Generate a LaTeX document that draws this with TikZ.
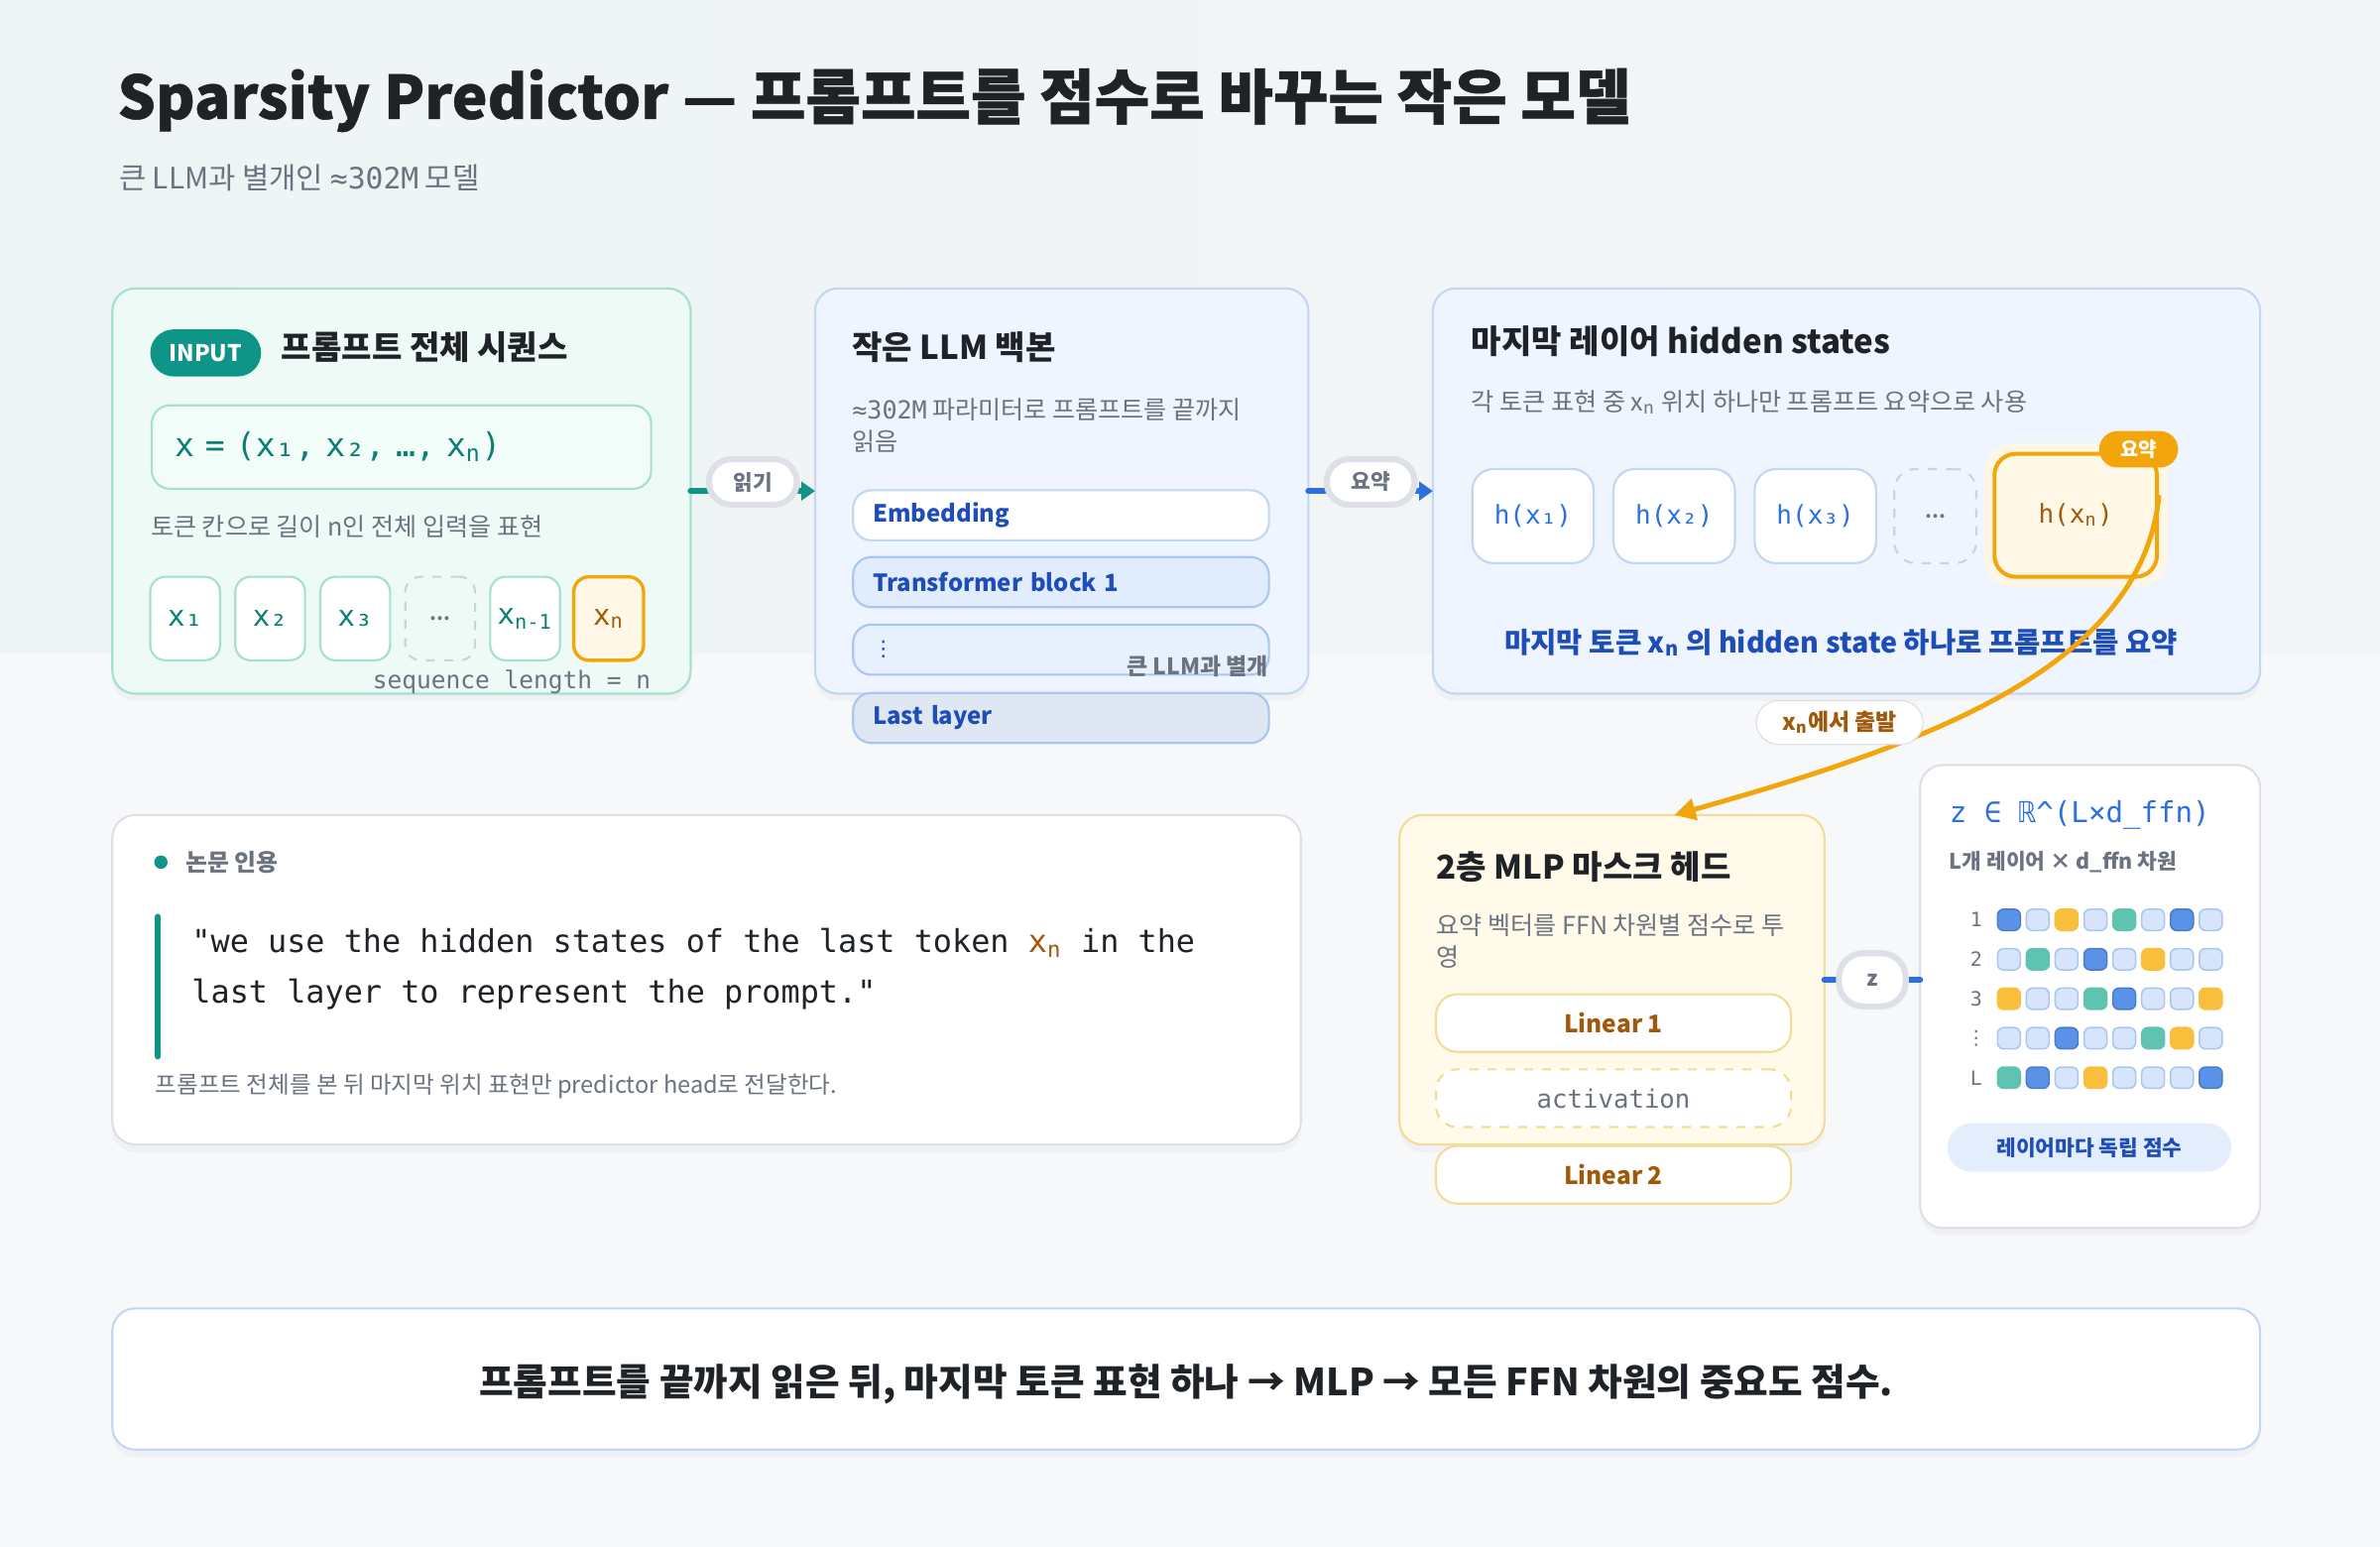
\documentclass[tikz,border=0pt]{standalone}
\usepackage{fontspec}
\setmainfont{Noto Sans CJK KR}
\setmonofont{DejaVu Sans Mono}
\newfontfamily\symfont{DejaVu Sans}
\newfontfamily\heavyfont{Noto Sans CJK KR}[BoldFeatures={FakeBold=0.8}]
\usetikzlibrary{arrows.meta,shadows}

\newcommand\fsz[2]{\fontsize{#1}{#2}\selectfont}

\definecolor{ink}{HTML}{1F2328}
\definecolor{muted}{HTML}{6B7280}
\definecolor{tealmain}{HTML}{0F9488}
\definecolor{tealdark}{HTML}{0C7F74}
\definecolor{tealline}{HTML}{A6DFD2}
\definecolor{mintfill}{HTML}{EEFAF6}
\definecolor{mintlight}{HTML}{F2FCF9}
\definecolor{bluemain}{HTML}{2B6FE0}
\definecolor{bluetext}{HTML}{1E4DB7}
\definecolor{blueline}{HTML}{C3D6F2}
\definecolor{blueline2}{HTML}{A9C6F0}
\definecolor{bluefill}{HTML}{EEF5FE}
\definecolor{layerfill}{HTML}{E1EDFD}
\definecolor{layerfill2}{HTML}{E7F0FD}
\definecolor{lastfill}{HTML}{DFE7F3}
\definecolor{bluecell}{HTML}{D6E5FB}
\definecolor{pillblue}{HTML}{E3EDFC}
\definecolor{orangemain}{HTML}{F2A60C}
\definecolor{browntext}{HTML}{A0580A}
\definecolor{xnfill}{HTML}{FFF8E6}
\definecolor{yellowfill}{HTML}{FFFAE9}
\definecolor{yellowline}{HTML}{F4DC98}
\definecolor{cardline}{HTML}{DDE1E7}
\definecolor{pagebg}{HTML}{F7F8FA}
\definecolor{topleft}{HTML}{EEF4F4}
\definecolor{topright}{HTML}{F3F5F8}
\definecolor{cellstrong}{HTML}{5A92EA}
\definecolor{cellteal}{HTML}{5EC4B1}
\definecolor{cellyellow}{HTML}{F8BE3C}

\tikzset{
  card/.style={rounded corners=7.5pt, line width=0.7pt, inner sep=0pt, outer sep=0pt,
    drop shadow={shadow xshift=0pt, shadow yshift=-2.5pt, opacity=0.05}},
  head/.style={anchor=west, inner sep=0pt, text=ink, font=\bfseries\fsz{10.8}{13}},
  note/.style={anchor=west, inner sep=0pt, text=muted, align=left, font=\fsz{8.2}{10.5}},
  tokcell/.style={draw=tealline, fill=white, rounded corners=5pt, line width=0.7pt,
    minimum width=23pt, minimum height=27.5pt, inner sep=0pt, text=tealdark,
    font=\ttfamily\fsz{9.5}{10}},
  gapcell/.style={tokcell, draw=gray!35, fill=none, dashed, text=muted,
    font=\bfseries\fsz{6}{7}},
  lastcell/.style={tokcell, draw=orangemain, fill=xnfill, text=browntext, line width=1.1pt},
  layer/.style={draw=blueline2, rounded corners=6pt, line width=0.7pt, minimum height=16.5pt,
    text width=124pt, inner xsep=6.5pt, inner ysep=0pt, align=left, text=bluetext,
    font=\bfseries\fsz{7.8}{10}},
  hcell/.style={draw=blueline, fill=white, rounded corners=7pt, line width=0.7pt,
    minimum width=40pt, minimum height=31pt, inner sep=0pt, text=bluemain,
    font=\ttfamily\fsz{8.5}{10}},
  flowlabel/.style={draw=cardline, fill=white, rounded corners=7.5pt, minimum width=29pt,
    minimum height=15pt, inner sep=0pt, text=muted, font=\bfseries\fsz{7}{8}},
  flowteal/.style={draw=tealmain, line width=2pt, line cap=round,
    -{Triangle[length=4.5pt,width=6pt]}},
  flowblue/.style={draw=bluemain, line width=2pt, line cap=round,
    -{Triangle[length=4.5pt,width=6pt]}},
  flowxn/.style={draw=orangemain, line width=1.6pt, line cap=round,
    -{Triangle[length=7pt,width=7pt]}},
  mlpstep/.style={draw=yellowline, fill=white, rounded corners=7pt, line width=0.7pt,
    minimum width=117pt, minimum height=19pt, inner sep=0pt, text=browntext,
    font=\bfseries\fsz{8}{10}},
  gridcell/.style={rounded corners=2pt, minimum width=7.5pt, minimum height=7pt,
    inner sep=0pt, line width=0.5pt},
  cellb/.style={gridcell, fill=cellstrong, draw=cellstrong!85!black},
  celll/.style={gridcell, fill=bluecell, draw=blueline2},
  celly/.style={gridcell, fill=cellyellow, draw=cellyellow},
  cellt/.style={gridcell, fill=cellteal, draw=cellteal},
  rowlab/.style={inner sep=0pt, text=muted, font=\ttfamily\fsz{6.5}{7}},
}

\begin{document}
\begin{tikzpicture}[x=0.5pt, y=-0.5pt]
  \useasboundingbox (0,0) rectangle (1568,1019);
  % background
  \fill[pagebg] (0,0) rectangle (1568,1019);
  \shade[left color=topleft, right color=topright] (0,0) rectangle (1568,430);

  \node[anchor=west, inner sep=0pt, text=ink, font=\heavyfont\bfseries\fsz{19.7}{22}] (title) at (77,66)
    {Sparsity Predictor — 프롬프트를 점수로 바꾸는 작은 모델};
  \node[anchor=west, inner sep=0pt, text=muted, font=\fsz{9.7}{11}] (subtitle) at (78,117)
    {큰 LLM과 별개인 {\ttfamily ≈302M} 모델};

  % input sequence
  \node[card, draw=tealline, fill=mintfill, minimum width=190.5pt, minimum height=133.5pt] (inbox) at (264.5,323.5) {};
  \node[fill=tealmain, rounded corners=7.75pt, minimum width=36.5pt, minimum height=15.5pt,
    inner sep=0pt, text=white, font=\bfseries\fsz{7.5}{9}] (inputtag) at (135.5,232.5) {INPUT};
  \node[head] (intitle) at (185,229) {프롬프트 전체 시퀀스};
  \node[draw=tealline, fill=mintlight, rounded corners=6pt, line width=0.7pt, minimum height=27.5pt,
    text width=149.5pt, inner xsep=7.5pt, align=left, text=tealdark,
    font=\ttfamily\fsz{10.8}{12}] (formula) at (264.5,294.5) {x = (x₁, x₂, …, x\textsubscript{n})};
  \node[note] (innote) at (99,347) {토큰 칸으로 길이 n인 전체 입력을 표현};
  \node[tokcell] (x1) at (122,407.5) {x₁};
  \node[tokcell] (x2) at (178,407.5) {x₂};
  \node[tokcell] (x3) at (234,407.5) {x₃};
  \node[gapcell] (xdots) at (290,407.5) {…};
  \node[tokcell] (xprev) at (346,407.5) {x\textsubscript{n-1}};
  \node[lastcell] (xlast) at (401,407.5) {x\textsubscript{n}};
  \node[anchor=east, inner sep=0pt, text=muted, font=\ttfamily\fsz{8}{9}] (seqlen) at (429,449) {sequence length = n};

  % small LLM backbone
  \node[card, draw=blueline, fill=bluefill, minimum width=162.5pt, minimum height=133.5pt] (llmbox) at (699.5,323.5) {};
  \node[head] (llmtitle) at (561,229) {작은 LLM 백본};
  \node[note] (llmnote) at (561,280.5) {{\ttfamily ≈302M} 파라미터로 프롬프트를 끝까지\\읽음};
  \node[layer, fill=white, draw=blueline] (embed) at (699,339.5) {Embedding};
  \node[layer, fill=layerfill] (block1) at (699,383.5) {Transformer block 1};
  \node[layer, fill=layerfill2, font=\symfont\fsz{7}{8}] (blockdots) at (699,428) {⋮};
  \node[anchor=east, inner sep=0pt, text=muted, font=\bfseries\fsz{7.5}{9}] (bignote) at (836,439) {큰 LLM과 별개};
  \node[layer, fill=lastfill] (lastlayer) at (699,473) {Last layer};

  % last layer hidden states
  \node[card, draw=blueline, fill=bluefill, minimum width=272.5pt, minimum height=133.5pt] (hsbox) at (1216.5,323.5) {};
  \node[head] (hstitle) at (969,225) {마지막 레이어 hidden states};
  \node[note] (hsnote) at (969,265) {각 토큰 표현 중 x\textsubscript{n} 위치 하나만 프롬프트 요약으로 사용};
  \node[hcell] (h1) at (1010,340) {h(x₁)};
  \node[hcell] (h2) at (1103,340) {h(x₂)};
  \node[hcell] (h3) at (1196,340) {h(x₃)};
  \node[hcell, draw=gray!35, dashed, fill=none, minimum width=27pt, text=muted,
    font=\bfseries\fsz{6}{7}] (hdots) at (1275,340) {…};
  \fill[orangemain!10, rounded corners=10pt] (1307,292) rectangle (1428,387);
  \node[hcell, draw=orangemain, line width=1.3pt, fill=xnfill, minimum width=53.5pt,
    minimum height=40.5pt, text=browntext] (hn) at (1367.5,339.5) {h(x\textsubscript{n})};
  \node[fill=orangemain, rounded corners=6pt, minimum width=26pt, minimum height=12pt, inner sep=0pt,
    text=white, font=\bfseries\fsz{6.5}{7}] (pickbadge) at (1409,296) {요약};
  \node[inner sep=0pt, text=bluetext, font=\bfseries\fsz{9.35}{11}] (hssum) at (1213,423)
    {마지막 토큰 x\textsubscript{n} 의 hidden state 하나로 프롬프트를 요약};

  % paper quote
  \node[card, draw=cardline, fill=white, minimum width=391.5pt, minimum height=108.5pt] (quotebox) at (465.5,645.5) {};
  \fill[tealmain] (106,568) circle (2.2pt);
  \node[anchor=west, inner sep=0pt, text=muted, font=\bfseries\fsz{7.8}{9}] (quotetag) at (122,568) {논문 인용};
  \draw[tealmain, line width=2pt, line cap=round] (104,604) -- (104,696);
  \node[anchor=west, inner sep=0pt, align=left, text=ink, font=\ttfamily\fsz{10.4}{16.5}] (quote) at (126,638.5)
    {"we use the hidden states of the last token {\color{browntext}x\textsubscript{n}} in the\\last layer to represent the prompt."};
  \node[note, font=\fsz{7.7}{9}] (quotecap) at (102,716) {프롬프트 전체를 본 뒤 마지막 위치 표현만 predictor head로 전달한다.};

  % MLP mask head
  \node[card, draw=yellowline, fill=yellowfill, minimum width=140pt, minimum height=108.5pt] (mlpbox) at (1062,645.5) {};
  \node[head] (mlptitle) at (946,571) {2층 MLP 마스크 헤드};
  \node[note] (mlpnote) at (946,620) {요약 벡터를 FFN 차원별 점수로 투\\영};
  \node[mlpstep] (lin1) at (1063,674) {Linear 1};
  \node[mlpstep, dashed, text=muted, font=\ttfamily\fsz{8.4}{10}] (act) at (1063,723.5) {activation};
  \node[mlpstep] (lin2) at (1063,774) {Linear 2};

  % score output
  \node[card, draw=cardline, fill=white, minimum width=112pt, minimum height=152.5pt] (zbox) at (1377,656.5) {};
  \node[anchor=west, inner sep=0pt, text=bluemain, font=\ttfamily\fsz{9.5}{11}] (ztitle) at (1284,537)
    {z ∈ ℝ\textasciicircum(L×d\_ffn)};
  \node[note, font=\bfseries\fsz{7}{9}] (znote) at (1284,568) {L개 레이어 × d\_ffn 차원};
  \foreach \lab/\y/\cells in {1/606/{b,l,y,l,t,l,b,l}, 2/632/{l,t,l,b,l,y,l,l},
      3/658/{y,l,l,t,b,l,l,y}, {\symfont ⋮}/684/{l,l,b,l,l,t,y,l}, L/710/{t,b,l,y,l,l,l,b}} {
    \node[rowlab] (row\y) at (1302,\y) {\lab};
    \foreach \c [count=\i from 0] in \cells
      \node[cell\c] (cell\y-\i) at (1323.5+19*\i,\y) {};
  }
  \node[fill=pillblue, rounded corners=8pt, minimum width=93.5pt, minimum height=16pt, inner sep=0pt,
    text=bluetext, font=\bfseries\fsz{7}{8}] (zpill) at (1376.5,756) {레이어마다 독립 점수};

  % summary
  \node[card, draw=blueline, fill=white, minimum width=707.5pt, minimum height=46.5pt] (sumbox) at (781.5,908.5) {};
  \node[inner sep=0pt, text=ink, font=\bfseries\fsz{12.3}{14}] (sumtext) at (781.5,912)
    {프롬프트를 끝까지 읽은 뒤, 마지막 토큰 표현 하나 → MLP → 모든 FFN 차원의 중요도 점수.};

  % connectors
  \draw[flowteal] (inbox.east) -- (llmbox.west) node[midway, yshift=3pt, flowlabel] (readlbl) {읽기};
  \draw[flowblue] (llmbox.east) -- (hsbox.west) node[midway, yshift=3pt, flowlabel] (sumlbl) {요약};
  \draw[flowblue, -] (mlpbox.east) -- (mlpbox.east -| zbox.west)
    node[midway, flowlabel, minimum width=22pt, minimum height=17.5pt, rounded corners=8pt] (zlbl) {z};
  \draw[flowxn] ([yshift=6pt]hn.east) .. controls (1410,440) and (1270,490) .. ([xshift=20.5pt]mlpbox.north);
  \node[flowlabel, minimum width=55pt, minimum height=14.5pt, text=browntext,
    font=\bfseries\fsz{7.5}{9}] (startlbl) at (1212,476) {x\textsubscript{n}에서 출발};
\end{tikzpicture}
\end{document}
